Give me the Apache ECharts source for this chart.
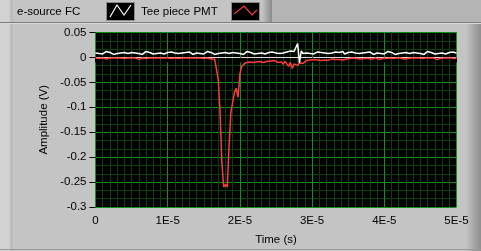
<!DOCTYPE html>
<html>
<head>
<meta charset="utf-8">
<script src="https://cdn.jsdelivr.net/npm/echarts@6/dist/echarts.min.js"></script>
<style>
html,body{margin:0;padding:0;background:#c4c4c4;}
#c{width:481px;height:251px;}
</style>
</head>
<body>
<div id="c"></div>
<script>
// ---- data ----
const seriesNames = ['e-source FC', 'Tee piece PMT'];
const sampleStep = 0.25e-6; // seconds between samples (201 samples, 0 .. 5E-5)
const xTickLabels = ['0', '1E-5', '2E-5', '3E-5', '4E-5', '5E-5'];
const yTickLabels = ['0.05', '0', '-0.05', '-0.1', '-0.15', '-0.2', '-0.25', '-0.3'];

// e-source FC (white)
const eSourceFC = [
0.009,0.011,0.008,0.010,0.007,0.009,0.012,0.008,0.010,0.009,0.006,0.010,0.008,0.011,0.009,0.007,0.010,0.013,0.008,0.009,
0.010,0.007,0.009,0.011,0.008,0.010,0.006,0.009,0.012,0.008,0.010,0.009,0.007,0.011,0.008,0.010,0.009,0.012,0.007,0.009,
0.010,0.008,0.011,0.007,0.009,0.010,0.008,0.012,0.009,0.007,0.010,0.008,0.011,0.009,0.006,0.010,0.009,0.011,0.008,0.010,
0.007,0.009,0.012,0.008,0.010,0.009,0.006,0.010,0.008,0.011,0.009,0.007,0.010,0.013,0.008,0.009,0.010,0.007,0.009,0.011,
0.008,0.010,0.006,0.009,0.012,0.008,0.010,0.009,0.007,0.011,0.008,0.010,0.009,0.012,0.007,0.009,0.010,0.008,0.011,0.007,
0.009,0.010,0.008,0.012,0.009,0.007,0.011,0.009,0.013,0.010,0.012,0.014,0.028,-0.011,0.013,0.008,0.012,0.009,0.011,0.008,
0.010,0.007,0.009,0.011,0.008,0.010,0.006,0.009,0.012,0.008,0.010,0.009,0.007,0.011,0.008,0.010,0.009,0.012,0.007,0.009,
0.010,0.008,0.011,0.007,0.009,0.010,0.008,0.012,0.009,0.007,0.010,0.008,0.011,0.009,0.006,0.010,0.009,0.011,0.008,0.010,
0.007,0.009,0.012,0.008,0.010,0.009,0.006,0.010,0.008,0.011,0.009,0.007,0.010,0.013,0.008,0.009,0.010,0.007,0.009,0.011,
0.008,0.010,0.006,0.009,0.012,0.008,0.010,0.009,0.007,0.011,0.008,0.010,0.009,0.012,0.007,0.009,0.010,0.008,0.011,0.007,0.009
];

// Tee piece PMT (red)
const teePiecePMT = [
-0.001,-0.001,-0.002,-0.001,-0.001,-0.001,-0.003,-0.001,-0.001,-0.002,-0.001,-0.001,-0.001,-0.004,-0.001,-0.001,-0.002,-0.001,-0.001,-0.001,
-0.001,-0.002,-0.001,-0.001,-0.004,-0.001,-0.001,-0.001,-0.002,-0.001,-0.001,-0.003,-0.001,-0.001,-0.001,-0.002,-0.001,-0.001,-0.001,-0.003,
-0.001,-0.001,-0.002,-0.001,-0.001,-0.001,-0.002,-0.001,-0.001,-0.003,-0.001,-0.001,-0.001,-0.002,-0.001,-0.001,-0.001,-0.002,-0.001,-0.001,
-0.002,-0.001,-0.001,-0.002,-0.003,-0.002,-0.003,
-0.003,-0.044,-0.11,-0.21,-0.26,-0.255,-0.26,-0.176,-0.11,-0.09,-0.07,-0.062,-0.08,-0.033,-0.018,-0.015,-0.011,-0.012,-0.009,
-0.008,-0.010,-0.007,-0.009,-0.006,-0.008,-0.007,-0.010,-0.006,-0.008,-0.012,-0.007,-0.009,-0.006,
-0.008,-0.010,-0.006,-0.009,-0.014,-0.008,-0.012,-0.018,-0.010,-0.022,-0.013,-0.009,-0.016,-0.011,-0.007,-0.012,-0.008,-0.006,-0.009,-0.005,
-0.006,-0.004,-0.007,-0.005,-0.003,-0.006,-0.004,-0.005,-0.003,-0.006,-0.004,-0.003,-0.005,-0.004,-0.002,-0.004,-0.003,-0.005,-0.002,-0.003,
-0.004,-0.002,-0.003,-0.001,-0.004,-0.002,-0.002,-0.003,-0.001,-0.002,-0.004,-0.002,-0.001,-0.003,-0.002,-0.001,-0.002,-0.004,-0.001,-0.002,
-0.001,-0.002,-0.003,-0.001,-0.001,-0.002,-0.004,-0.001,-0.002,-0.001,-0.001,-0.003,-0.001,-0.002,-0.001,-0.001,-0.004,-0.001,-0.002,-0.001,
-0.001,-0.002,-0.001,-0.001,-0.003,-0.001,-0.002,-0.001,-0.001,-0.004,-0.001,-0.002,-0.001,-0.001,-0.002,-0.001,-0.003,-0.001,-0.001,-0.002,-0.001
];

// ---- chart ----
const toPairs = arr => arr.map((v, i) => [i * sampleStep, v]);
const FONT = 'Liberation Sans';

const chart = echarts.init(document.getElementById('c'), null, {renderer: 'canvas'});

const legendGraphics = [
  // top band
  {type:'rect', shape:{x:0,y:0,width:481,height:22}, style:{fill:'#b4b4b4'}, silent:true, z:-10},
  {type:'rect', shape:{x:0,y:0,width:272,height:22}, style:{fill:'#c4c4c4'}, silent:true, z:-9},
  {type:'rect', shape:{x:262,y:0,width:10,height:22}, style:{fill:new echarts.graphic.LinearGradient(0,0,1,0,[{offset:0,color:'#c4c4c4'},{offset:1,color:'#8a8a8a'}])}, silent:true, z:-8},
  {type:'rect', shape:{x:0,y:0,width:10,height:251}, style:{fill:'#d2d2d2'}, silent:true, z:-8},
  {type:'rect', shape:{x:10,y:0,width:3,height:251}, style:{fill:'#bcbcbc'}, silent:true, z:-8},
  {type:'line', shape:{x1:0,y1:22.5,x2:481,y2:22.5}, style:{stroke:'#7c7c7c',lineWidth:1}, silent:true, z:-7},
  {type:'line', shape:{x1:0,y1:23.5,x2:481,y2:23.5}, style:{stroke:'#dadada',lineWidth:1}, silent:true, z:-7},
  {type:'rect', shape:{x:466,y:24,width:15,height:227}, style:{fill:new echarts.graphic.LinearGradient(0,0,1,0,[{offset:0,color:'#c4c4c4'},{offset:1,color:'#8e8e8e'}])}, silent:true, z:-7},
  {type:'line', shape:{x1:0,y1:249.5,x2:481,y2:249.5}, style:{stroke:'#9a9a9a',lineWidth:1}, silent:true, z:-7},
  // legend entry 1
  {type:'text', x:17, y:11.5, style:{text:seriesNames[0], font:'11.5px "'+FONT+'"', fill:'#000', verticalAlign:'middle'}, silent:true},
  {type:'rect', shape:{x:106.5,y:2.5,width:28,height:18}, style:{fill:'#000', stroke:'#8a8a8a', lineWidth:1}, silent:true},
  {type:'polyline', shape:{points:[[110,17],[117,5],[124,15],[131,5]]}, style:{stroke:'#fff', lineWidth:1.2, fill:null}, silent:true},
  // legend entry 2
  {type:'text', x:141, y:11.5, style:{text:seriesNames[1], font:'11.5px "'+FONT+'"', fill:'#000', verticalAlign:'middle'}, silent:true},
  {type:'rect', shape:{x:231.5,y:2.5,width:28,height:18}, style:{fill:'#000', stroke:'#8a8a8a', lineWidth:1}, silent:true},
  {type:'polyline', shape:{points:[[234,14],[244,6],[252,15],[257,10]]}, style:{stroke:'#ff3b3b', lineWidth:1.2, fill:null}, silent:true}
];

chart.setOption({
  animation: false,
  backgroundColor: '#c4c4c4',
  textStyle: {fontFamily: FONT},
  graphic: legendGraphics,
  grid: {left: 95.5, top: 32.5, width: 361, height: 177, show: true, backgroundColor: '#000', borderWidth: 0},
  xAxis: {
    type: 'value', min: 0, max: 5e-5, interval: 1e-5,
    name: 'Time (s)', nameLocation: 'middle', nameGap: 27,
    nameTextStyle: {color: '#000', fontSize: 11.5, fontFamily: FONT},
    axisLine: {show: true, lineStyle: {color: '#d8d8d8'}},
    axisTick: {show: true, inside: false, length: 5, lineStyle: {color: '#000'}},
    axisLabel: {color: '#000', fontSize: 11.5, fontFamily: FONT, margin: 8,
      formatter: v => xTickLabels[Math.round(v / 1e-5)]},
    splitLine: {show: true, lineStyle: {color: '#12901a', width: 1}},
    minorTick: {show: false, splitNumber: 10},
    minorSplitLine: {show: true, lineStyle: {color: '#07400a', width: 1}}
  },
  yAxis: {
    type: 'value', min: -0.3, max: 0.05, interval: 0.05,
    name: 'Amplitude (V)', nameLocation: 'middle', nameGap: 41,
    nameTextStyle: {color: '#000', fontSize: 11.5, fontFamily: FONT},
    axisLine: {show: false},
    axisTick: {show: true, inside: false, length: 6, lineStyle: {color: '#000'}},
    axisLabel: {color: '#000', fontSize: 11.5, fontFamily: FONT, margin: 9,
      formatter: v => yTickLabels[Math.round((0.05 - v) / 0.05)]},
    splitLine: {show: true, lineStyle: {color: '#12901a', width: 1}},
    minorTick: {show: false, splitNumber: 3},
    minorSplitLine: {show: true, lineStyle: {color: '#07400a', width: 1}}
  },
  series: [
    {name: seriesNames[1], type: 'line', data: toPairs(teePiecePMT), showSymbol: false,
     lineStyle: {color: '#ff3b3b', width: 1.5}, itemStyle: {color: '#ff3b3b'}},
    {name: seriesNames[0], type: 'line', data: toPairs(eSourceFC), showSymbol: false,
     lineStyle: {color: '#ffffff', width: 1.5}, itemStyle: {color: '#ffffff'}}
  ]
});
</script>
</body>
</html>
